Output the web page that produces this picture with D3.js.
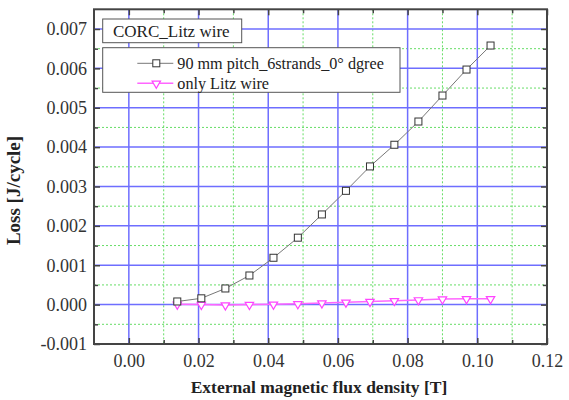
<!DOCTYPE html>
<html><head><meta charset="utf-8">
<script src="https://cdn.jsdelivr.net/npm/d3@7"></script>
<style>html,body{margin:0;padding:0;background:#fff;}</style></head>
<body>
<svg id="c" width="569" height="400" font-family="Liberation Serif"></svg>
<script>
const xValues = [0.0139,0.0208,0.0277,0.0346,0.0415,0.0485,0.0554,0.0623,0.0692,0.0762,0.0831,0.0900,0.0969,0.1038];
const lossPitch = [0.00008,0.00016,0.00041,0.00074,0.00119,0.00170,0.00229,0.00289,0.00351,0.00406,0.00465,0.00531,0.00597,0.00658];
const lossLitz = [0.00001,0.00000,-0.00001,0.00000,0.00001,0.00002,0.00004,0.00006,0.00008,0.00010,0.00012,0.00014,0.00015,0.00015];
const xTicks = [0.00,0.02,0.04,0.06,0.08,0.10,0.12];
const xMinor = [0.01,0.03,0.05,0.07,0.09,0.11];
const yTicks = [-0.001,0.000,0.001,0.002,0.003,0.004,0.005,0.006,0.007];
const yMinor = [-0.0005,0.0005,0.0015,0.0025,0.0035,0.0045,0.0055,0.0065];
const legendTitle = "CORC_Litz wire";
const seriesNames = ["90 mm pitch_6strands_0° dgree","only Litz wire"];
const xTitle = "External magnetic flux density [T]";
const yTitle = "Loss [J/cycle]";

const FONT = "Liberation Serif";
const svg = d3.select("#c");
const L=94, R=547, T=9.3, B=344;
const x = d3.scaleLinear().domain([-0.01,0.12]).range([L,R]);
const y = d3.scaleLinear().domain([-0.001,0.0075]).range([B,T]);

const g = svg.append("g");
g.selectAll(".gx").data(xMinor).join("line")
  .attr("x1",d=>x(d)).attr("x2",d=>x(d)).attr("y1",T).attr("y2",B)
  .attr("stroke","#66dd66").attr("stroke-width",1).attr("stroke-dasharray","2,2");
g.selectAll(".gy").data(yMinor).join("line")
  .attr("y1",d=>y(d)).attr("y2",d=>y(d)).attr("x1",L).attr("x2",R)
  .attr("stroke","#66dd66").attr("stroke-width",1).attr("stroke-dasharray","2,2");
g.selectAll(".bx").data(xTicks.filter(d=>d<0.12)).join("line")
  .attr("x1",d=>x(d)).attr("x2",d=>x(d)).attr("y1",T).attr("y2",B)
  .attr("stroke","#6e6eff").attr("stroke-width",1.5);
g.selectAll(".by").data(yTicks.filter(d=>d>-0.001)).join("line")
  .attr("y1",d=>y(d)).attr("y2",d=>y(d)).attr("x1",L).attr("x2",R)
  .attr("stroke","#6e6eff").attr("stroke-width",1.5);

const fmtX = d3.format(".2f"), fmtY = d3.format(".3f");
const axStyle = a => {
  a.attr("font-family",FONT).attr("font-size",18);
  a.select(".domain").remove();
  a.selectAll(".tick line").attr("stroke","#444").attr("stroke-width",1.5);
  a.selectAll("text").attr("fill","#333").attr("font-family",FONT).attr("font-size",18);
};
svg.append("g").attr("transform",`translate(0,${B})`)
  .call(d3.axisBottom(x).tickValues(xTicks).tickFormat(d=>fmtX(d)).tickSizeInner(-6).tickSizeOuter(0).tickPadding(10))
  .call(axStyle);
svg.append("g").attr("transform",`translate(0,${B})`)
  .call(d3.axisBottom(x).tickValues(xMinor).tickFormat("").tickSizeInner(-4).tickSizeOuter(0)).call(axStyle);
svg.append("g").attr("transform",`translate(0,${T})`)
  .call(d3.axisTop(x).tickValues(xTicks).tickFormat("").tickSizeInner(-6).tickSizeOuter(0)).call(axStyle);
svg.append("g").attr("transform",`translate(0,${T})`)
  .call(d3.axisTop(x).tickValues(xMinor).tickFormat("").tickSizeInner(-4).tickSizeOuter(0)).call(axStyle);
svg.append("g").attr("transform",`translate(${L},0)`)
  .call(d3.axisLeft(y).tickValues(yTicks).tickFormat(d=>fmtY(d).replace("−","-")).tickSizeInner(-6).tickSizeOuter(0).tickPadding(7))
  .call(axStyle);
svg.append("g").attr("transform",`translate(${L},0)`)
  .call(d3.axisLeft(y).tickValues(yMinor).tickFormat("").tickSizeInner(-4).tickSizeOuter(0)).call(axStyle);
svg.append("g").attr("transform",`translate(${R},0)`)
  .call(d3.axisRight(y).tickValues(yTicks).tickFormat("").tickSizeInner(-6).tickSizeOuter(0)).call(axStyle);
svg.append("g").attr("transform",`translate(${R},0)`)
  .call(d3.axisRight(y).tickValues(yMinor).tickFormat("").tickSizeInner(-4).tickSizeOuter(0)).call(axStyle);

svg.append("rect").attr("x",L).attr("y",T).attr("width",R-L).attr("height",B-T)
  .attr("fill","none").attr("stroke","#444").attr("stroke-width",2);

const pts1 = xValues.map((v,i)=>[v,lossPitch[i]]);
const pts2 = xValues.map((v,i)=>[v,lossLitz[i]]);
const line = d3.line().x(d=>x(d[0])).y(d=>y(d[1]));
svg.append("path").datum(pts2).attr("d",line).attr("fill","none").attr("stroke","#ff66ff").attr("stroke-width",1.5);
svg.append("path").datum(pts1).attr("d",line).attr("fill","none").attr("stroke","#777").attr("stroke-width",1);
const tri = (cx,cy,s)=>`M${cx-s},${cy-s*0.75}L${cx+s},${cy-s*0.75}L${cx},${cy+s*0.95}Z`;
svg.selectAll(".t").data(pts2).join("path")
  .attr("d",d=>tri(x(d[0]),y(d[1])+1,4.2)).attr("fill","#fff").attr("stroke","#ff44ff").attr("stroke-width",1.2);
svg.selectAll(".s").data(pts1).join("rect")
  .attr("x",d=>x(d[0])-3.5).attr("y",d=>y(d[1])-3.5).attr("width",7).attr("height",7)
  .attr("fill","#fff").attr("stroke","#333").attr("stroke-width",1);

svg.append("rect").attr("x",102.7).attr("y",19).attr("width",139).attr("height",23.7)
  .attr("fill","#fff").attr("stroke","#555").attr("stroke-width",1);
svg.append("text").attr("x",113).attr("y",37).text(legendTitle).attr("fill","#222")
  .attr("font-family",FONT).attr("font-size",17);
svg.append("rect").attr("x",102.7).attr("y",47.7).attr("width",297.3).attr("height",44.6)
  .attr("fill","#fff").attr("stroke","#555").attr("stroke-width",1);
const ly = [63.3,83.3];
svg.append("line").attr("x1",137.3).attr("x2",173.3).attr("y1",ly[0]).attr("y2",ly[0]).attr("stroke","#777").attr("stroke-width",1);
svg.append("rect").attr("x",156.3-3.5).attr("y",ly[0]-3.5).attr("width",7).attr("height",7).attr("fill","#fff").attr("stroke","#333");
svg.append("line").attr("x1",137.3).attr("x2",173.3).attr("y1",ly[1]).attr("y2",ly[1]).attr("stroke","#ff66ff").attr("stroke-width",1.5);
svg.append("path").attr("d",tri(156.3,ly[1]+1,4.2)).attr("fill","#fff").attr("stroke","#ff44ff").attr("stroke-width",1.2);
seriesNames.forEach((n,i)=>{
  svg.append("text").attr("x",177.3).attr("y",ly[i]+5.5).text(n).attr("fill","#222")
    .attr("font-family",FONT).attr("font-size",16.2);
});

svg.append("text").attr("x",319).attr("y",393).attr("text-anchor","middle")
  .attr("font-family",FONT).attr("font-size",17.5).attr("font-weight","bold").attr("fill","#222").text(xTitle);
svg.append("text").attr("transform","translate(20,190.5) rotate(-90)").attr("text-anchor","middle")
  .attr("font-family",FONT).attr("font-size",19).attr("font-weight","bold").attr("fill","#222").text(yTitle);
</script>
</body></html>
